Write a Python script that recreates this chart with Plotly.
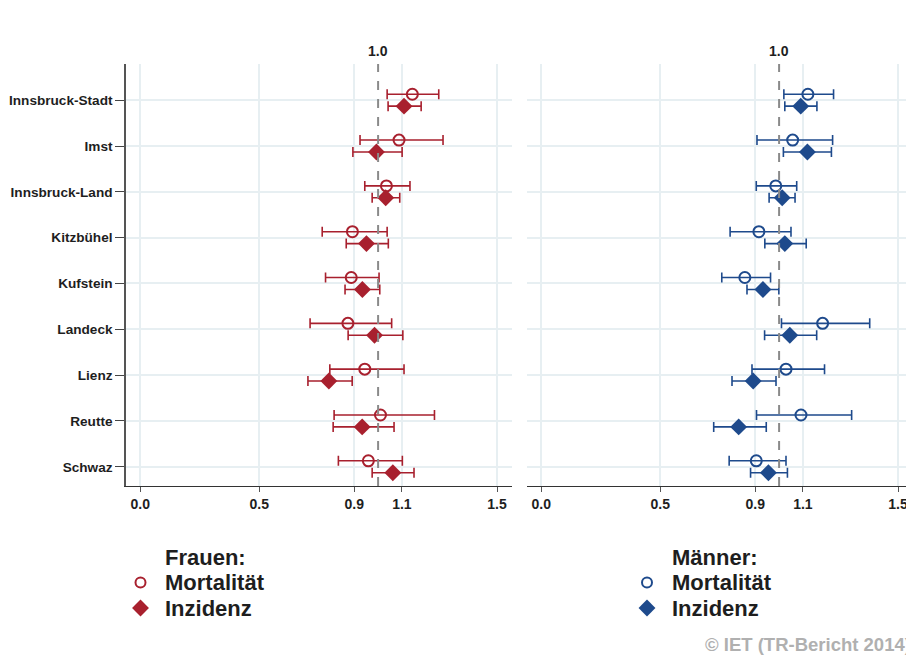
import plotly.graph_objects as go

districts = ["Innsbruck-Stadt", "Imst", "Innsbruck-Land", "Kitzbühel", "Kufstein",
             "Landeck", "Lienz", "Reutte", "Schwaz"]

# Frauen
f_mort = [1.144, 1.088, 1.035, 0.892, 0.887, 0.873, 0.944, 1.010, 0.959]
f_mort_lo = [1.038, 0.924, 0.944, 0.765, 0.779, 0.714, 0.797, 0.815, 0.833]
f_mort_hi = [1.255, 1.273, 1.134, 1.038, 1.004, 1.057, 1.109, 1.237, 1.102]
f_inz = [1.109, 0.993, 1.032, 0.951, 0.934, 0.985, 0.793, 0.933, 1.062]
f_inz_lo = [1.042, 0.894, 0.975, 0.866, 0.861, 0.874, 0.705, 0.811, 0.975]
f_inz_hi = [1.181, 1.101, 1.091, 1.043, 1.007, 1.104, 0.891, 1.067, 1.151]

# Männer
m_mort = [1.121, 1.057, 0.986, 0.915, 0.856, 1.183, 1.029, 1.092, 0.904]
m_mort_lo = [1.020, 0.907, 0.904, 0.794, 0.759, 1.010, 0.886, 0.905, 0.790]
m_mort_hi = [1.229, 1.225, 1.074, 1.050, 0.964, 1.381, 1.191, 1.305, 1.029]
m_inz = [1.091, 1.119, 1.013, 1.024, 0.932, 1.045, 0.891, 0.830, 0.955]
m_inz_lo = [1.024, 1.018, 0.958, 0.940, 0.865, 0.939, 0.802, 0.725, 0.880]
m_inz_hi = [1.159, 1.220, 1.067, 1.114, 0.999, 1.158, 0.987, 0.946, 1.035]

x_ticks = [0.0, 0.5, 0.9, 1.1, 1.5]
x_ticklabels = ["0.0", "0.5", "0.9", "1.1", "1.5"]
ref_value = 1.0
series_names = ["Mortalität", "Inzidenz"]
group_titles = ["Frauen:", "Männer:"]

RED = "#a8202e"
BLUE = "#1e4a8c"
FONT = "Liberation Sans"
TXT = "#1e1e1e"
OFF = 0.13

# page geometry (browser body margin of 8px is compensated; keep page from scrolling)
PAGE_W, PAGE_H, BODY = 914, 663, 8
W, H = PAGE_W - BODY, PAGE_H - 2 * BODY


def px(x):
    return (x - BODY) / W


def py(y):
    return 1 - (y - BODY) / H


idx = list(range(1, len(districts) + 1))
y_mort = [i - OFF for i in idx]
y_inz = [i + OFF for i in idx]


def err(vals, lo, hi, col):
    return dict(type="data", symmetric=False,
                array=[h - v for v, h in zip(vals, hi)],
                arrayminus=[v - l for v, l in zip(vals, lo)],
                thickness=1.6, width=5, color=col)


def mort_marker(col, s):
    return dict(symbol="circle-open", size=s, color=col, line=dict(width=2, color=col))


def inz_marker(col, s):
    return dict(symbol="diamond", size=s, color=col)


fig = go.Figure()

panels = [
    ("x", "y", RED, f_mort, f_mort_lo, f_mort_hi, f_inz, f_inz_lo, f_inz_hi),
    ("x2", "y2", BLUE, m_mort, m_mort_lo, m_mort_hi, m_inz, m_inz_lo, m_inz_hi),
]
for xa, ya, col, mo, mlo, mhi, iz, ilo, ihi in panels:
    fig.add_trace(go.Scatter(
        x=mo, y=y_mort, mode="markers", xaxis=xa, yaxis=ya, showlegend=False,
        error_x=err(mo, mlo, mhi, col), marker=mort_marker(col, 11)))
    fig.add_trace(go.Scatter(
        x=iz, y=y_inz, mode="markers", xaxis=xa, yaxis=ya, showlegend=False,
        error_x=err(iz, ilo, ihi, col), marker=inz_marker(col, 13)))

# legend keys (drawn on a page-pixel overlay axis)
legend_key_x = [140.5, 647]
legend_text_x = [163, 670]
legend_rows_y = [557, 582.5, 608]
for k, col in enumerate([RED, BLUE]):
    fig.add_trace(go.Scatter(x=[legend_key_x[k]], y=[legend_rows_y[1]], mode="markers",
                             xaxis="x3", yaxis="y3", showlegend=False, hoverinfo="skip",
                             marker=mort_marker(col, 10)))
    fig.add_trace(go.Scatter(x=[legend_key_x[k]], y=[legend_rows_y[2]], mode="markers",
                             xaxis="x3", yaxis="y3", showlegend=False, hoverinfo="skip",
                             marker=inz_marker(col, 13)))
    for j, txt in enumerate([group_titles[k]] + series_names):
        fig.add_annotation(x=px(legend_text_x[k]), xref="paper", y=py(legend_rows_y[j]),
                           yref="paper", xanchor="left", yanchor="middle", text=txt,
                           showarrow=False,
                           font=dict(family=FONT, size=22, color=TXT, weight="bold"))

xcommon = dict(range=[-0.06, 1.563], tickmode="array", tickvals=x_ticks, ticktext=x_ticklabels,
               showgrid=True, gridcolor="#e7eff2", gridwidth=1.5, zeroline=False,
               showline=True, linecolor="#333", linewidth=1.2,
               ticks="outside", ticklen=5, tickcolor="#555",
               tickfont=dict(family=FONT, size=14, color=TXT, weight="bold"))
ycommon = dict(range=[9.42, 0.21], tickmode="array", tickvals=idx,
               showgrid=True, gridcolor="#e7eff2", gridwidth=1.5, zeroline=False,
               tickfont=dict(family=FONT, size=13.6, color=TXT, weight="bold"))
ydom = [py(486), py(64)]

fig.update_layout(
    width=W, height=H,
    margin=dict(l=0, r=0, t=0, b=0),
    paper_bgcolor="white", plot_bgcolor="rgba(0,0,0,0)",
    showlegend=False,
    xaxis=dict(xcommon, domain=[px(126), px(512)], anchor="y"),
    xaxis2=dict(xcommon, domain=[px(527), px(913)], anchor="y2"),
    yaxis=dict(ycommon, domain=ydom, anchor="x",
               ticktext=districts, showline=True, linecolor="#555", linewidth=1.5,
               ticks="outside", ticklen=9, tickcolor="#444"),
    yaxis2=dict(ycommon, domain=ydom, anchor="x2",
                showticklabels=False, showline=False),
    xaxis3=dict(domain=[0, 1], range=[BODY, PAGE_W], visible=False, anchor="y3", fixedrange=True),
    yaxis3=dict(domain=[0, 1], range=[PAGE_H - BODY, BODY], visible=False, anchor="x3",
                fixedrange=True),
)

for xa, yd in [("x", "y domain"), ("x2", "y2 domain")]:
    fig.add_shape(type="line", xref=xa, yref=yd, x0=ref_value, x1=ref_value, y0=0, y1=1,
                  line=dict(color="#8a8a8a", width=2, dash="dash"), layer="above")
    fig.add_annotation(x=ref_value, xref=xa, y=1, yref=yd, yanchor="bottom", yshift=3,
                       text=f"{ref_value:.1f}", showarrow=False,
                       font=dict(family=FONT, size=14, color=TXT, weight="bold"))

fig.add_annotation(x=px(703), xref="paper", y=0, yref="paper", xanchor="left",
                   yanchor="bottom", yshift=-2, text="© IET (TR-Bericht 2014)", showarrow=False,
                   font=dict(family=FONT, size=18.5, color="#b0b0b0", weight="bold"))

fig.write_html("out.html")
